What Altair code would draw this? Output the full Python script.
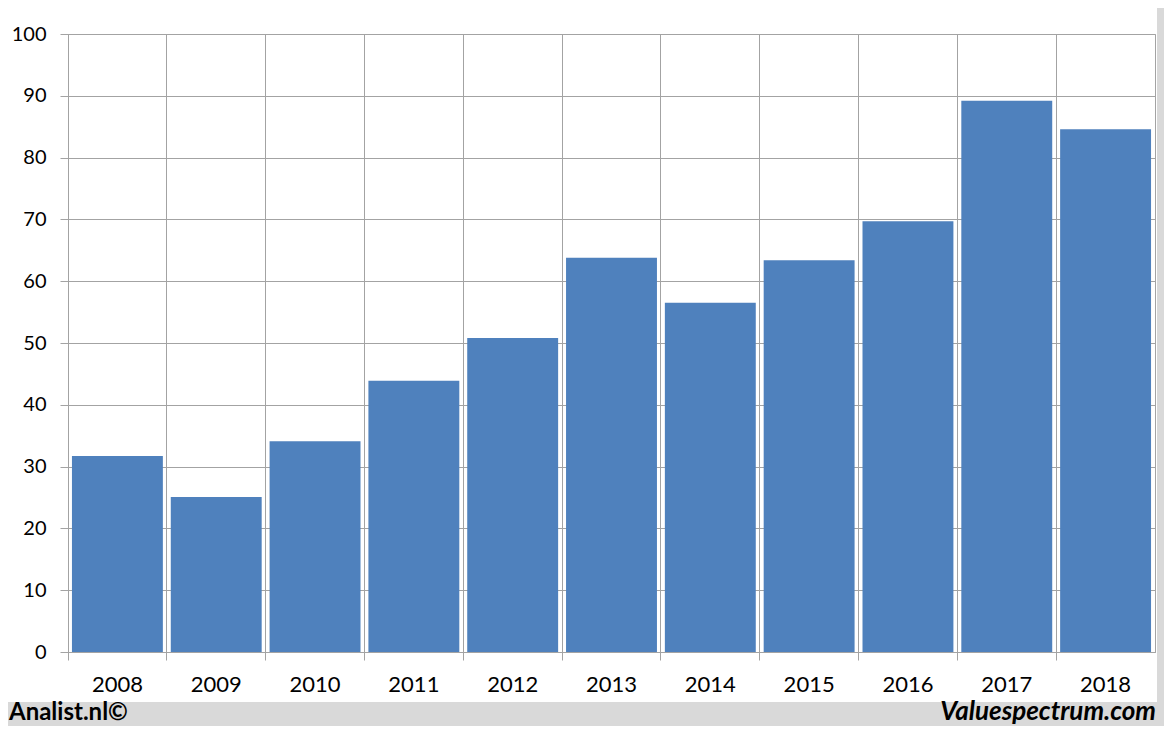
import altair as alt
import pandas as pd

years = ["2008", "2009", "2010", "2011", "2012", "2013", "2014", "2015", "2016", "2017", "2018"]
values = [31.7, 25.1, 34.1, 43.9, 50.8, 63.8, 56.5, 63.4, 69.7, 89.2, 84.6]
y_ticks = list(range(0, 101, 10))
footer_left = "Analist.nl©"
footer_right = "Valuespectrum.com"

df = pd.DataFrame({"year": years, "value": values})
footer = pd.DataFrame({"left": [footer_left], "right": [footer_right]})

W, H = 1087, 618
PAD_L, PAD_T, PAD_R, PAD_B = 60, 26, 9, 74
GRID = "#a3a3a3"
FRAME = "#d9d9d9"

x_enc = alt.X(
    "year:O", title=None, sort=years,
    scale=alt.Scale(paddingInner=0, paddingOuter=0),
    axis=alt.Axis(
        bandPosition=0, grid=True, gridColor=GRID, gridWidth=1,
        ticks=True, tickSize=8, tickColor=GRID, domainColor=GRID,
        labelAngle=0, labelFont="Lato", labelFontSize=22,
        labelColor="black", labelPadding=14,
    ),
)
y_enc = alt.Y(
    "value:Q", title=None,
    scale=alt.Scale(domain=[0, 100], nice=False),
    axis=alt.Axis(
        values=y_ticks, grid=True, gridColor=GRID, gridWidth=1,
        ticks=True, tickSize=8, tickColor=GRID, domainColor=GRID,
        labelFont="Lato", labelFontSize=20, labelColor="black", labelPadding=14,
    ),
)

bars = alt.Chart(df).mark_bar(
    color="#4f81bd", width=alt.RelativeBandSize(0.92)
).encode(x=x_enc, y=y_enc)

band_bottom = alt.Chart(footer).mark_rect(color=FRAME).encode(
    x=alt.value(-PAD_L), x2=alt.value(W + PAD_R),
    y=alt.value(668), y2=alt.value(H + PAD_B),
)
band_right = alt.Chart(footer).mark_rect(color=FRAME).encode(
    x=alt.value(1089), x2=alt.value(W + PAD_R),
    y=alt.value(-PAD_T), y2=alt.value(668),
)

txt_left = alt.Chart(footer).mark_text(
    align="left", baseline="alphabetic", font="Lato", fontSize=24,
    fontWeight="bold", color="black",
).encode(x=alt.value(-59), y=alt.value(686), text="left:N")

txt_right = alt.Chart(footer).mark_text(
    align="right", baseline="alphabetic", font="Lato", fontSize=26,
    fontWeight="bold", fontStyle="italic", color="black",
).encode(x=alt.value(1088), y=alt.value(686), text="right:N")

chart = alt.layer(bars, band_bottom, band_right, txt_left, txt_right).properties(
    width=W, height=H,
    autosize=alt.AutoSizeParams(type="none"),
    padding={"left": PAD_L, "top": PAD_T, "right": PAD_R, "bottom": PAD_B},
    background="white",
).configure_view(stroke=GRID, strokeWidth=1)

chart.save("out.html", embed_options={"renderer": "svg", "actions": False})
